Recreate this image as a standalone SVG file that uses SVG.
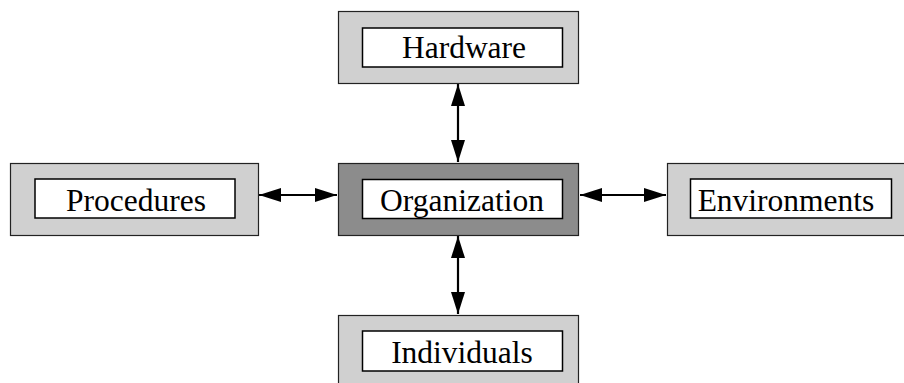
<svg xmlns="http://www.w3.org/2000/svg" width="904" height="383" viewBox="0 0 904 383">
  <style>
    .outer { fill: #d0d0d0; stroke: #222; stroke-width: 1.2; }
    .outer.dark { fill: #8c8c8c; }
    .inner { fill: #ffffff; stroke: #000; stroke-width: 1.5; }
    .label { font-family: "Liberation Serif", "Times New Roman", serif; font-size: 31.5px; fill: #000; text-anchor: middle; }
    .conn { stroke: #000; stroke-width: 2.2; fill: none; marker-start: url(#head); marker-end: url(#head); }
  </style>
  <defs>
    <marker id="head" viewBox="0 0 22 14" refX="22" refY="7" markerWidth="22" markerHeight="14" markerUnits="userSpaceOnUse" orient="auto-start-reverse">
      <path d="M0,0 L22,7 L0,14 Z" fill="#000"/>
    </marker>
  </defs>

  <g id="connectors">
    <line class="conn" x1="458" y1="84" x2="458" y2="162"/>
    <line class="conn" x1="458" y1="236" x2="458" y2="314"/>
    <line class="conn" x1="259" y1="195" x2="337" y2="195"/>
    <line class="conn" x1="580" y1="195" x2="666" y2="195"/>
  </g>

  <g id="hardware">
    <rect class="outer" x="338.5" y="11.5" width="240" height="72"/>
    <rect class="inner" x="362.5" y="28" width="200" height="39"/>
    <text class="label" x="464" y="58">Hardware</text>
  </g>

  <g id="organization">
    <rect class="outer dark" x="338.5" y="163.5" width="240" height="72"/>
    <rect class="inner" x="362.5" y="179.5" width="200" height="39"/>
    <text class="label" x="462" y="210.5">Organization</text>
  </g>

  <g id="procedures">
    <rect class="outer" x="10.5" y="163.5" width="248" height="72"/>
    <rect class="inner" x="35" y="179" width="200" height="39"/>
    <text class="label" x="136" y="210.5">Procedures</text>
  </g>

  <g id="environments">
    <rect class="outer" x="667.5" y="163.5" width="248" height="72"/>
    <rect class="inner" x="690.5" y="179" width="201" height="39"/>
    <text class="label" x="786" y="210.5">Environments</text>
  </g>

  <g id="individuals">
    <rect class="outer" x="338.5" y="315.5" width="240" height="72"/>
    <rect class="inner" x="362.5" y="331" width="200" height="40"/>
    <text class="label" x="462" y="362.5">Individuals</text>
  </g>
</svg>
